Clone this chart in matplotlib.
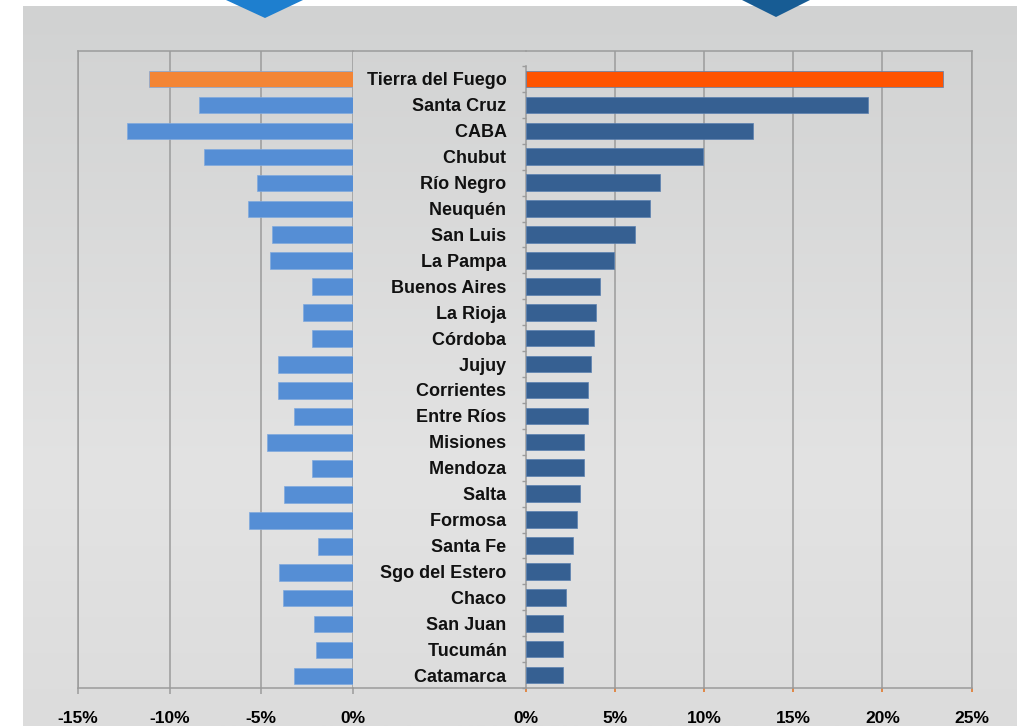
import numpy as np
import matplotlib
matplotlib.use("Agg")
import matplotlib.pyplot as plt
from matplotlib.lines import Line2D
from matplotlib.patches import Polygon
from matplotlib.colors import LinearSegmentedColormap
from matplotlib.ticker import FuncFormatter

plt.rcParams["font.family"] = ["Liberation Sans", "DejaVu Sans"]
plt.rcParams["font.weight"] = "bold"

# ---- data ----
provinces = ["Tierra del Fuego", "Santa Cruz", "CABA", "Chubut", "Río Negro",
             "Neuquén", "San Luis", "La Pampa", "Buenos Aires", "La Rioja",
             "Córdoba", "Jujuy", "Corrientes", "Entre Ríos", "Misiones",
             "Mendoza", "Salta", "Formosa", "Santa Fe", "Sgo del Estero",
             "Chaco", "San Juan", "Tucumán", "Catamarca"]
left_vals = [-11.1, -8.4, -12.3, -8.1, -5.2, -5.7, -4.4, -4.5, -2.2, -2.7,
             -2.2, -4.1, -4.05, -3.2, -4.65, -2.2, -3.75, -5.65, -1.9, -4.0,
             -3.8, -2.1, -2.0, -3.2]
right_vals = [23.4, 19.2, 12.75, 9.95, 7.5, 6.95, 6.1, 4.95, 4.15, 3.95,
              3.8, 3.65, 3.5, 3.5, 3.28, 3.28, 3.02, 2.87, 2.63, 2.48,
              2.26, 2.1, 2.1, 2.1]
left_ticks = [-15, -10, -5, 0]
right_ticks = [0, 5, 10, 15, 20, 25]

LEFT_BLUE = "#558ED5"
LEFT_HI = "#F38535"
RIGHT_BLUE = "#366092"
RIGHT_HI = "#FF5300"
GRID = "#9B9B9B"

W, H = 1017, 726
fig = plt.figure(figsize=(W / 100, H / 100), dpi=100)
fig.patch.set_facecolor("white")


def fx(px):
    return px / W


def fy(py):
    return 1 - py / H


# gray gradient panel
bg = fig.add_axes([fx(22.7), 0, 1 - fx(22.7), fy(6)], zorder=0)
cmap = LinearSegmentedColormap.from_list(
    "bg", [(0, "#D1D2D2"), (0.65, "#E3E3E3"), (1, "#DCDCDC")])
bg.imshow(np.linspace(0, 1, 256)[:, None], aspect="auto", cmap=cmap,
          extent=[0, 1, 1, 0])
bg.set_axis_off()

# arrow tips at the top
fig.patches.append(Polygon([[fx(226), fy(0)], [fx(303), fy(0)], [fx(265), fy(18)]],
                           closed=True, transform=fig.transFigure,
                           facecolor="#1E7FCF", edgecolor="none", zorder=5))
fig.patches.append(Polygon([[fx(742), fy(0)], [fx(810), fy(0)], [fx(776), fy(17)]],
                           closed=True, transform=fig.transFigure,
                           facecolor="#175C94", edgecolor="none", zorder=5))

top, bot = 51, 688
n = len(provinces)
pos = np.arange(n)
ylim = (23.46, -1.08)
bar_h = 0.64

# ---- left chart ----
axl = fig.add_axes([fx(78), fy(bot), fx(352.6) - fx(78), fy(top) - fy(bot)], zorder=2)
axl.patch.set_alpha(0)
lcol = [LEFT_HI] + [LEFT_BLUE] * (n - 1)
axl.barh(pos, left_vals, height=bar_h, color=lcol, edgecolor="#7FA9DE",
         linewidth=0.5, zorder=3)
axl.set_xlim(-15, 0)
axl.set_ylim(*ylim)
axl.set_xticks(left_ticks)
axl.xaxis.set_major_formatter(FuncFormatter(lambda v, p: f"{v:.0f}%"))
axl.set_yticks([])
axl.grid(axis="x", color=GRID, linewidth=1.1, zorder=1)
for s in axl.spines.values():
    s.set_color(GRID)
    s.set_linewidth(1.1)
axl.spines["right"].set_visible(False)
axl.tick_params(axis="x", direction="out", length=4.5, width=1.1, color=GRID,
                pad=12, labelsize=12.5, labelcolor="black")

# ---- right chart ----
axr = fig.add_axes([fx(526), fy(bot), fx(971.5) - fx(526), fy(top) - fy(bot)], zorder=2)
axr.patch.set_alpha(0)
rcol = [RIGHT_HI] + [RIGHT_BLUE] * (n - 1)
axr.barh(pos, right_vals, height=bar_h, color=rcol, edgecolor="#5A80B0",
         linewidth=0.5, zorder=3)
axr.set_xlim(0, 25)
axr.set_ylim(*ylim)
axr.set_xticks(right_ticks)
axr.xaxis.set_major_formatter(FuncFormatter(lambda v, p: f"{v:.0f}%"))
axr.set_yticks(pos)
axr.set_yticklabels([p + " " for p in provinces])
axr.set_yticks(np.arange(n + 1) - 0.5, minor=True)
axr.grid(axis="x", color=GRID, linewidth=1.1, zorder=1)
axr.get_xgridlines()[0].set_visible(False)
for s in axr.spines.values():
    s.set_color(GRID)
    s.set_linewidth(1.1)
axr.spines["left"].set_bounds(-0.5, n - 0.5)
axr.tick_params(axis="x", direction="out", length=3, width=1.1, color="#E07020",
                pad=13.5, labelsize=12.5, labelcolor="black")
axr.tick_params(axis="y", which="major", length=0, pad=10.5, labelsize=13,
                labelcolor="#111111")
axr.tick_params(axis="y", which="minor", length=3, width=1.0, color=GRID,
                direction="out")

# frame lines across the gap between the two charts
for yy in (top, bot):
    fig.add_artist(Line2D([fx(352.6), fx(526)], [fy(yy), fy(yy)], color=GRID,
                          linewidth=1.1, transform=fig.transFigure, zorder=3))

fig.savefig("out.png", dpi=100, facecolor="white")
